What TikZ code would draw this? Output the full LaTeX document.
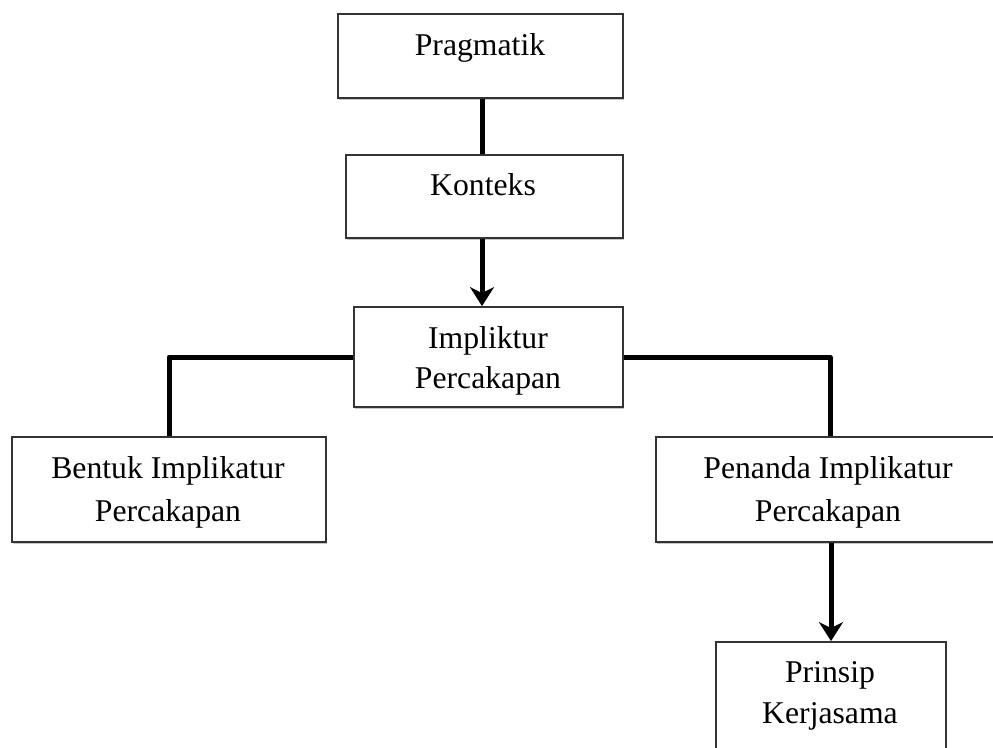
\documentclass[tikz,border=0pt]{standalone}
\usepackage{fontspec}
\setmainfont{Liberation Serif}
\usetikzlibrary{shadows,arrows.meta}
\begin{document}
\begin{tikzpicture}[x=1pt,y=-1pt,
  box/.style={draw=black!80, line width=1.8pt, fill=white, rectangle, inner sep=0pt,
    drop shadow={shadow xshift=1.2pt, shadow yshift=-2.4pt, opacity=0.22, fill=black}},
  txt/.style={anchor=base, inner sep=0pt, font=\fontsize{31.7pt}{38pt}\selectfont},
  conn/.style={line width=5pt, black},
  arr/.style={conn, -{Stealth[length=19pt,width=24pt,inset=6pt]}}]
\useasboundingbox (0,0) rectangle (993,747);
\clip (0,0) rectangle (993,747);
% boxes
\node[box, minimum width=285pt, minimum height=84pt] (prag) at (480.5,56) {};
\node[box, minimum width=277pt, minimum height=83pt] (kont) at (484.5,196.5) {};
\node[box, minimum width=269pt, minimum height=100pt] (impl) at (488.5,357) {};
\node[box, minimum width=314pt, minimum height=105pt] (bent) at (169,489.5) {};
\node[box, minimum width=344pt, minimum height=105pt] (pena) at (828,489.5) {};
\node[box, minimum width=230pt, minimum height=130pt] (prin) at (831,707) {};
% texts
\node[txt] (t1) at (480,55) {Pragmatik};
\node[txt] (t2) at (483,195) {Konteks};
\node[txt] (t3a) at (488,348) {Impliktur};
\node[txt] (t3b) at (488,388) {Percakapan};
\node[txt] (t4a) at (168,478) {Bentuk Implikatur};
\node[txt] (t4b) at (168,521) {Percakapan};
\node[txt] (t5a) at (828,478) {Penanda Implikatur};
\node[txt] (t5b) at (828,521) {Percakapan};
\node[txt] (t6a) at (830,682) {Prinsip};
\node[txt] (t6b) at (830,723) {Kerjasama};
% connectors
\draw[conn] ([xshift=1.5pt]prag.south) -- ([xshift=1.5pt]prag.south |- kont.north);
\draw[arr] ([xshift=-2.5pt]kont.south) -- ([xshift=-2.5pt]kont.south |- impl.north);
\draw[conn, line join=round] (impl.west) -| (bent.north);
\draw[conn, line join=round] (impl.east) -| ([xshift=2pt]pena.north);
\draw[arr] (pena.south -| prin.north) -- (prin.north);
\end{tikzpicture}
\end{document}
